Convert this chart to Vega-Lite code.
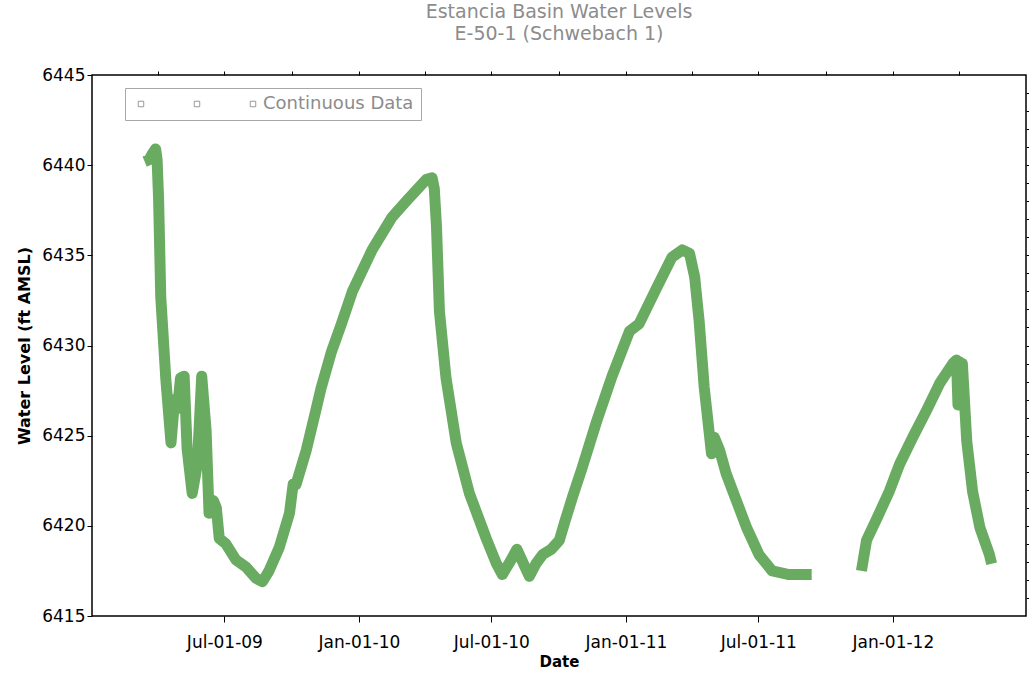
{
  "$schema": "https://vega.github.io/schema/vega-lite/v6.json",
  "width": 934,
  "height": 541,
  "autosize": {"type": "none"},
  "padding": {"left": 92, "top": 75, "right": 3, "bottom": 61},
  "background": "white",
  "config": {"view": {"stroke": "black", "strokeWidth": 1.5}, "font": "DejaVu Sans"},
  "title": {
    "text": ["Estancia Basin Water Levels", "E-50-1 (Schwebach 1)"],
    "anchor": "middle",
    "fontSize": 19,
    "font": "DejaVu Sans",
    "fontWeight": "normal",
    "color": "#8c8c8c",
    "lineHeight": 22,
    "offset": 22
  },
  "data": {
    "values": [
      {"date": "2009-03-14", "level": 6440.2, "segment": 1, "series": "Continuous Data"},
      {"date": "2009-03-20", "level": 6440.3, "segment": 1, "series": "Continuous Data"},
      {"date": "2009-03-24", "level": 6440.6, "segment": 1, "series": "Continuous Data"},
      {"date": "2009-03-29", "level": 6440.9, "segment": 1, "series": "Continuous Data"},
      {"date": "2009-03-31", "level": 6440.3, "segment": 1, "series": "Continuous Data"},
      {"date": "2009-04-02", "level": 6438.2, "segment": 1, "series": "Continuous Data"},
      {"date": "2009-04-05", "level": 6432.7, "segment": 1, "series": "Continuous Data"},
      {"date": "2009-04-12", "level": 6428.1, "segment": 1, "series": "Continuous Data"},
      {"date": "2009-04-19", "level": 6424.6, "segment": 1, "series": "Continuous Data"},
      {"date": "2009-04-24", "level": 6427.0, "segment": 1, "series": "Continuous Data"},
      {"date": "2009-04-28", "level": 6426.5, "segment": 1, "series": "Continuous Data"},
      {"date": "2009-05-02", "level": 6428.2, "segment": 1, "series": "Continuous Data"},
      {"date": "2009-05-07", "level": 6428.3, "segment": 1, "series": "Continuous Data"},
      {"date": "2009-05-11", "level": 6424.3, "segment": 1, "series": "Continuous Data"},
      {"date": "2009-05-18", "level": 6421.8, "segment": 1, "series": "Continuous Data"},
      {"date": "2009-05-25", "level": 6423.4, "segment": 1, "series": "Continuous Data"},
      {"date": "2009-05-31", "level": 6428.3, "segment": 1, "series": "Continuous Data"},
      {"date": "2009-06-06", "level": 6425.3, "segment": 1, "series": "Continuous Data"},
      {"date": "2009-06-10", "level": 6420.7, "segment": 1, "series": "Continuous Data"},
      {"date": "2009-06-16", "level": 6421.4, "segment": 1, "series": "Continuous Data"},
      {"date": "2009-06-20", "level": 6421.0, "segment": 1, "series": "Continuous Data"},
      {"date": "2009-06-24", "level": 6419.3, "segment": 1, "series": "Continuous Data"},
      {"date": "2009-07-03", "level": 6419.0, "segment": 1, "series": "Continuous Data"},
      {"date": "2009-07-17", "level": 6418.1, "segment": 1, "series": "Continuous Data"},
      {"date": "2009-07-31", "level": 6417.7, "segment": 1, "series": "Continuous Data"},
      {"date": "2009-08-13", "level": 6417.1, "segment": 1, "series": "Continuous Data"},
      {"date": "2009-08-22", "level": 6416.9, "segment": 1, "series": "Continuous Data"},
      {"date": "2009-08-31", "level": 6417.5, "segment": 1, "series": "Continuous Data"},
      {"date": "2009-09-14", "level": 6418.8, "segment": 1, "series": "Continuous Data"},
      {"date": "2009-09-28", "level": 6420.7, "segment": 1, "series": "Continuous Data"},
      {"date": "2009-10-03", "level": 6422.3, "segment": 1, "series": "Continuous Data"},
      {"date": "2009-10-07", "level": 6422.3, "segment": 1, "series": "Continuous Data"},
      {"date": "2009-10-21", "level": 6424.2, "segment": 1, "series": "Continuous Data"},
      {"date": "2009-11-03", "level": 6426.4, "segment": 1, "series": "Continuous Data"},
      {"date": "2009-11-10", "level": 6427.6, "segment": 1, "series": "Continuous Data"},
      {"date": "2009-11-24", "level": 6429.6, "segment": 1, "series": "Continuous Data"},
      {"date": "2009-12-08", "level": 6431.2, "segment": 1, "series": "Continuous Data"},
      {"date": "2009-12-23", "level": 6433.0, "segment": 1, "series": "Continuous Data"},
      {"date": "2010-01-19", "level": 6435.3, "segment": 1, "series": "Continuous Data"},
      {"date": "2010-02-15", "level": 6437.1, "segment": 1, "series": "Continuous Data"},
      {"date": "2010-03-11", "level": 6438.2, "segment": 1, "series": "Continuous Data"},
      {"date": "2010-04-03", "level": 6439.2, "segment": 1, "series": "Continuous Data"},
      {"date": "2010-04-11", "level": 6439.3, "segment": 1, "series": "Continuous Data"},
      {"date": "2010-04-14", "level": 6438.7, "segment": 1, "series": "Continuous Data"},
      {"date": "2010-04-17", "level": 6436.6, "segment": 1, "series": "Continuous Data"},
      {"date": "2010-04-21", "level": 6431.9, "segment": 1, "series": "Continuous Data"},
      {"date": "2010-04-30", "level": 6428.2, "segment": 1, "series": "Continuous Data"},
      {"date": "2010-05-14", "level": 6424.6, "segment": 1, "series": "Continuous Data"},
      {"date": "2010-06-01", "level": 6421.8, "segment": 1, "series": "Continuous Data"},
      {"date": "2010-06-24", "level": 6419.3, "segment": 1, "series": "Continuous Data"},
      {"date": "2010-07-08", "level": 6417.9, "segment": 1, "series": "Continuous Data"},
      {"date": "2010-07-16", "level": 6417.3, "segment": 1, "series": "Continuous Data"},
      {"date": "2010-07-25", "level": 6417.9, "segment": 1, "series": "Continuous Data"},
      {"date": "2010-08-05", "level": 6418.7, "segment": 1, "series": "Continuous Data"},
      {"date": "2010-08-14", "level": 6417.9, "segment": 1, "series": "Continuous Data"},
      {"date": "2010-08-22", "level": 6417.2, "segment": 1, "series": "Continuous Data"},
      {"date": "2010-08-31", "level": 6417.9, "segment": 1, "series": "Continuous Data"},
      {"date": "2010-09-09", "level": 6418.4, "segment": 1, "series": "Continuous Data"},
      {"date": "2010-09-21", "level": 6418.7, "segment": 1, "series": "Continuous Data"},
      {"date": "2010-10-02", "level": 6419.2, "segment": 1, "series": "Continuous Data"},
      {"date": "2010-10-10", "level": 6420.3, "segment": 1, "series": "Continuous Data"},
      {"date": "2010-10-20", "level": 6421.6, "segment": 1, "series": "Continuous Data"},
      {"date": "2010-11-02", "level": 6423.2, "segment": 1, "series": "Continuous Data"},
      {"date": "2010-11-22", "level": 6425.8, "segment": 1, "series": "Continuous Data"},
      {"date": "2010-12-13", "level": 6428.3, "segment": 1, "series": "Continuous Data"},
      {"date": "2011-01-06", "level": 6430.8, "segment": 1, "series": "Continuous Data"},
      {"date": "2011-01-19", "level": 6431.2, "segment": 1, "series": "Continuous Data"},
      {"date": "2011-02-12", "level": 6433.2, "segment": 1, "series": "Continuous Data"},
      {"date": "2011-03-05", "level": 6434.9, "segment": 1, "series": "Continuous Data"},
      {"date": "2011-03-19", "level": 6435.3, "segment": 1, "series": "Continuous Data"},
      {"date": "2011-03-29", "level": 6435.1, "segment": 1, "series": "Continuous Data"},
      {"date": "2011-04-05", "level": 6433.8, "segment": 1, "series": "Continuous Data"},
      {"date": "2011-04-11", "level": 6431.4, "segment": 1, "series": "Continuous Data"},
      {"date": "2011-04-18", "level": 6427.7, "segment": 1, "series": "Continuous Data"},
      {"date": "2011-04-28", "level": 6424.0, "segment": 1, "series": "Continuous Data"},
      {"date": "2011-05-02", "level": 6424.9, "segment": 1, "series": "Continuous Data"},
      {"date": "2011-05-09", "level": 6424.2, "segment": 1, "series": "Continuous Data"},
      {"date": "2011-05-18", "level": 6422.9, "segment": 1, "series": "Continuous Data"},
      {"date": "2011-06-01", "level": 6421.4, "segment": 1, "series": "Continuous Data"},
      {"date": "2011-06-15", "level": 6419.9, "segment": 1, "series": "Continuous Data"},
      {"date": "2011-07-02", "level": 6418.4, "segment": 1, "series": "Continuous Data"},
      {"date": "2011-07-20", "level": 6417.5, "segment": 1, "series": "Continuous Data"},
      {"date": "2011-08-12", "level": 6417.3, "segment": 1, "series": "Continuous Data"},
      {"date": "2011-09-12", "level": 6417.3, "segment": 1, "series": "Continuous Data"},
      {"date": "2011-11-19", "level": 6417.5, "segment": 2, "series": "Continuous Data"},
      {"date": "2011-11-26", "level": 6419.2, "segment": 2, "series": "Continuous Data"},
      {"date": "2011-12-10", "level": 6420.4, "segment": 2, "series": "Continuous Data"},
      {"date": "2011-12-27", "level": 6421.9, "segment": 2, "series": "Continuous Data"},
      {"date": "2012-01-10", "level": 6423.4, "segment": 2, "series": "Continuous Data"},
      {"date": "2012-01-28", "level": 6424.9, "segment": 2, "series": "Continuous Data"},
      {"date": "2012-02-16", "level": 6426.4, "segment": 2, "series": "Continuous Data"},
      {"date": "2012-03-05", "level": 6427.9, "segment": 2, "series": "Continuous Data"},
      {"date": "2012-03-23", "level": 6429.0, "segment": 2, "series": "Continuous Data"},
      {"date": "2012-03-28", "level": 6429.2, "segment": 2, "series": "Continuous Data"},
      {"date": "2012-03-30", "level": 6426.7, "segment": 2, "series": "Continuous Data"},
      {"date": "2012-04-01", "level": 6429.1, "segment": 2, "series": "Continuous Data"},
      {"date": "2012-04-03", "level": 6426.9, "segment": 2, "series": "Continuous Data"},
      {"date": "2012-04-05", "level": 6429.0, "segment": 2, "series": "Continuous Data"},
      {"date": "2012-04-11", "level": 6424.7, "segment": 2, "series": "Continuous Data"},
      {"date": "2012-04-19", "level": 6421.9, "segment": 2, "series": "Continuous Data"},
      {"date": "2012-04-29", "level": 6419.9, "segment": 2, "series": "Continuous Data"},
      {"date": "2012-05-12", "level": 6418.4, "segment": 2, "series": "Continuous Data"},
      {"date": "2012-05-15", "level": 6417.9, "segment": 2, "series": "Continuous Data"}
    ]
  },
  "layer": [
    {
      "mark": {"type": "line", "strokeWidth": 11, "color": "#6aab62", "strokeJoin": "round", "strokeCap": "butt"},
      "encoding": {
        "x": {
          "field": "date", "type": "temporal",
          "scale": {"domain": [{"year": 2009, "month": 1, "date": 1}, {"year": 2012, "month": 7, "date": 1}]},
          "axis": {
            "orient": "bottom",
            "values": [
              {"year": 2009, "month": 7, "date": 1}, {"year": 2010, "month": 1, "date": 1},
              {"year": 2010, "month": 7, "date": 1}, {"year": 2011, "month": 1, "date": 1},
              {"year": 2011, "month": 7, "date": 1}, {"year": 2012, "month": 1, "date": 1}
            ],
            "format": "%b-%d-%y",
            "grid": false,
            "domain": false,
            "tickColor": "black",
            "tickSize": 6,
            "labelPadding": 12,
            "labelFont": "DejaVu Sans",
            "labelFontSize": 17,
            "labelColor": "black",
            "title": "Date",
            "titleFont": "DejaVu Sans",
            "titleFontSize": 15,
            "titleFontWeight": "bold",
            "titleColor": "black",
            "titlePadding": 4
          }
        },
        "y": {
          "field": "level", "type": "quantitative",
          "scale": {"domain": [6415, 6445], "nice": false, "zero": false},
          "axis": {
            "orient": "left",
            "values": [6415, 6420, 6425, 6430, 6435, 6440, 6445],
            "format": "d",
            "grid": false,
            "domain": false,
            "tickColor": "black",
            "tickSize": 5,
            "labelPadding": 2,
            "labelFont": "DejaVu Sans",
            "labelFontSize": 17,
            "labelColor": "black",
            "title": "Water Level (ft AMSL)",
            "titleFont": "DejaVu Sans",
            "titleFontSize": 16,
            "titleFontWeight": "bold",
            "titleColor": "black",
            "titlePadding": 9
          }
        },
        "detail": {"field": "segment", "type": "nominal"},
        "opacity": {
          "field": "series", "type": "nominal",
          "scale": {"domain": ["s1", "s2", "Continuous Data"], "range": [1, 1, 1]},
          "legend": {
            "orient": "none",
            "legendX": 33,
            "legendY": 13,
            "direction": "horizontal",
            "title": null,
            "strokeColor": "#a8a8a8",
            "fillColor": "white",
            "padding": 7,
            "columnPadding": 37,
            "symbolType": "square",
            "symbolSize": 30,
            "symbolFillColor": "white",
            "symbolStrokeColor": "#999999",
            "symbolStrokeWidth": 1,
            "labelOffset": 1,
            "labelFont": "DejaVu Sans",
            "labelFontSize": 18,
            "labelColor": "#8c8c8c",
            "labelExpr": "datum.label == 'Continuous Data' ? datum.label : ''"
          }
        }
      }
    },
    {
      "mark": {"type": "line", "opacity": 0},
      "encoding": {
        "x": {
          "field": "date", "type": "temporal",
          "axis": {
            "orient": "top",
            "values": [
              {"year": 2009, "month": 4, "date": 1}, {"year": 2009, "month": 7, "date": 1},
              {"year": 2009, "month": 10, "date": 1}, {"year": 2010, "month": 1, "date": 1},
              {"year": 2010, "month": 4, "date": 1}, {"year": 2010, "month": 7, "date": 1},
              {"year": 2010, "month": 10, "date": 1}, {"year": 2011, "month": 1, "date": 1},
              {"year": 2011, "month": 4, "date": 1}, {"year": 2011, "month": 7, "date": 1},
              {"year": 2011, "month": 10, "date": 1}, {"year": 2012, "month": 1, "date": 1},
              {"year": 2012, "month": 4, "date": 1}
            ],
            "labels": false,
            "grid": false,
            "domain": false,
            "tickColor": "black",
            "tickSize": 4,
            "title": null
          }
        },
        "y": {
          "field": "level", "type": "quantitative",
          "axis": {
            "orient": "right",
            "values": [6416, 6417, 6418, 6419, 6420, 6421, 6422, 6423, 6424, 6425, 6426, 6427, 6428, 6429, 6430, 6431, 6432, 6433, 6434, 6435, 6436, 6437, 6438, 6439, 6440, 6441, 6442, 6443, 6444],
            "labels": false,
            "grid": false,
            "domain": false,
            "tickColor": "black",
            "tickSize": 3,
            "title": null
          }
        },
        "detail": {"field": "segment", "type": "nominal"}
      }
    }
  ],
  "resolve": {"axis": {"x": "independent", "y": "independent"}}
}
